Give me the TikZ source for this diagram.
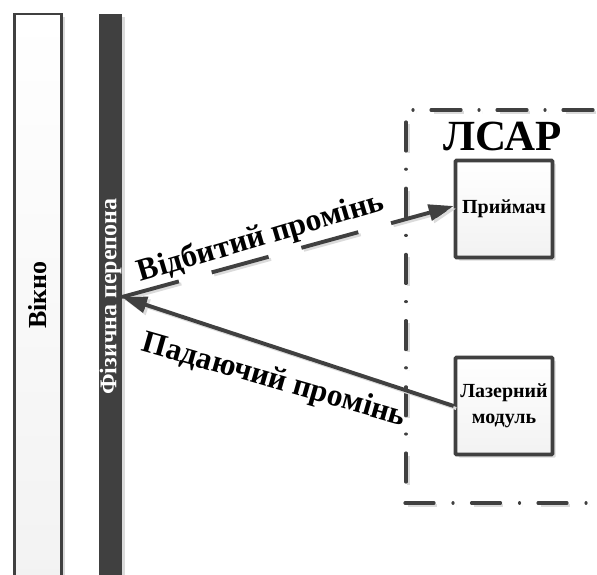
\documentclass[tikz,border=0pt]{standalone}
\usepackage{fontspec}
\setmainfont{Liberation Serif}
\usetikzlibrary{arrows.meta,shadows}
\definecolor{ink}{HTML}{404040}
\tikzset{
  softshadow/.style={preaction={draw=black!14,line width=3pt,dash pattern=#1,transform canvas={xshift=2.5pt,yshift=-2.5pt}}},
  panel/.style={draw=ink,line width=2.8pt,top color=white,bottom color=black!5,align=center,inner sep=0pt,
     drop shadow={shadow xshift=3pt,shadow yshift=-3pt,fill=black!14,opacity=1}},
  devicebox/.style={panel,line width=3.6pt,rounded corners=1pt,minimum width=97pt,minimum height=97pt,font=\fontsize{20}{26}\selectfont\bfseries},
  barrier/.style={fill=ink,draw=none,inner sep=0pt,text=white,drop shadow={shadow xshift=3pt,shadow yshift=-3pt,fill=black!14,opacity=1}},
  frameside/.style={draw=ink,line width=3.2pt,line cap=round,dash pattern=#1,softshadow={#1}},
  beam/.style={draw=ink,line width=3.9pt,dash pattern=#1,softshadow={#1}},
  beamtip/.style={-{Triangle[length=25pt,width=16pt,fill=ink]}},
  beamlabel/.style={font=\fontsize{31.5}{34}\selectfont\bfseries,inner sep=0pt},
}
\begin{document}
\begin{tikzpicture}[x=1pt,y=-1pt]
\clip (0,0) rectangle (597,575);
\fill[white] (0,0) rectangle (597,575);
% tall panels
\node[panel,minimum width=47pt,minimum height=566pt,font=\fontsize{26}{28}\selectfont\bfseries] (window) at (38,297) {\rotatebox{90}{\hspace{4pt}Вікно}};
\node[barrier,minimum width=23pt,minimum height=566pt,font=\fontsize{24}{26}\selectfont\bfseries] (wall) at (110.5,297) {\rotatebox{90}{\hspace{1pt}Фізична перепона}};
% dash-dot frame
\coordinate (tl) at (413,110); \coordinate (tr) at (597,110);
\coordinate (lt) at (406,122); \coordinate (lb) at (406,484);
\coordinate (bl) at (405,503); \coordinate (br) at (597,503);
\draw[frameside={on 0.01pt off 18pt on 30pt off 18pt}] (tl) -- (tr);
\draw[frameside={on 29pt off 18.2pt on 0.01pt off 19pt}] (lt) -- (lb);
\draw[frameside={on 29pt off 19pt on 0.01pt off 18.5pt}] (bl) -- (br);
% devices
\node[devicebox] (rx) at (504,209) {Приймач};
\node[devicebox] (laser) at (504,406) {Лазерний\\модуль};
\node[font=\fontsize{43}{46}\selectfont\bfseries,inner sep=0pt] (lsar) at (502.5,136) {ЛСАР};
% beams
\coordinate (hit) at (122,297);
\coordinate (rxin) at ([yshift=3pt]rx.west);
\draw[beam={on 59pt off 34pt},beamtip] (hit) -- (rxin);
\draw[beam={on 1000pt off 1pt},beamtip] (laser.west) -- (hit);
% labels
\node[beamlabel,rotate=16.5] (refl) at (261,238) {Відбитий промінь};
\node[beamlabel,rotate=-16] (inc) at (274,381) {Падаючий промінь};
\end{tikzpicture}
\end{document}
